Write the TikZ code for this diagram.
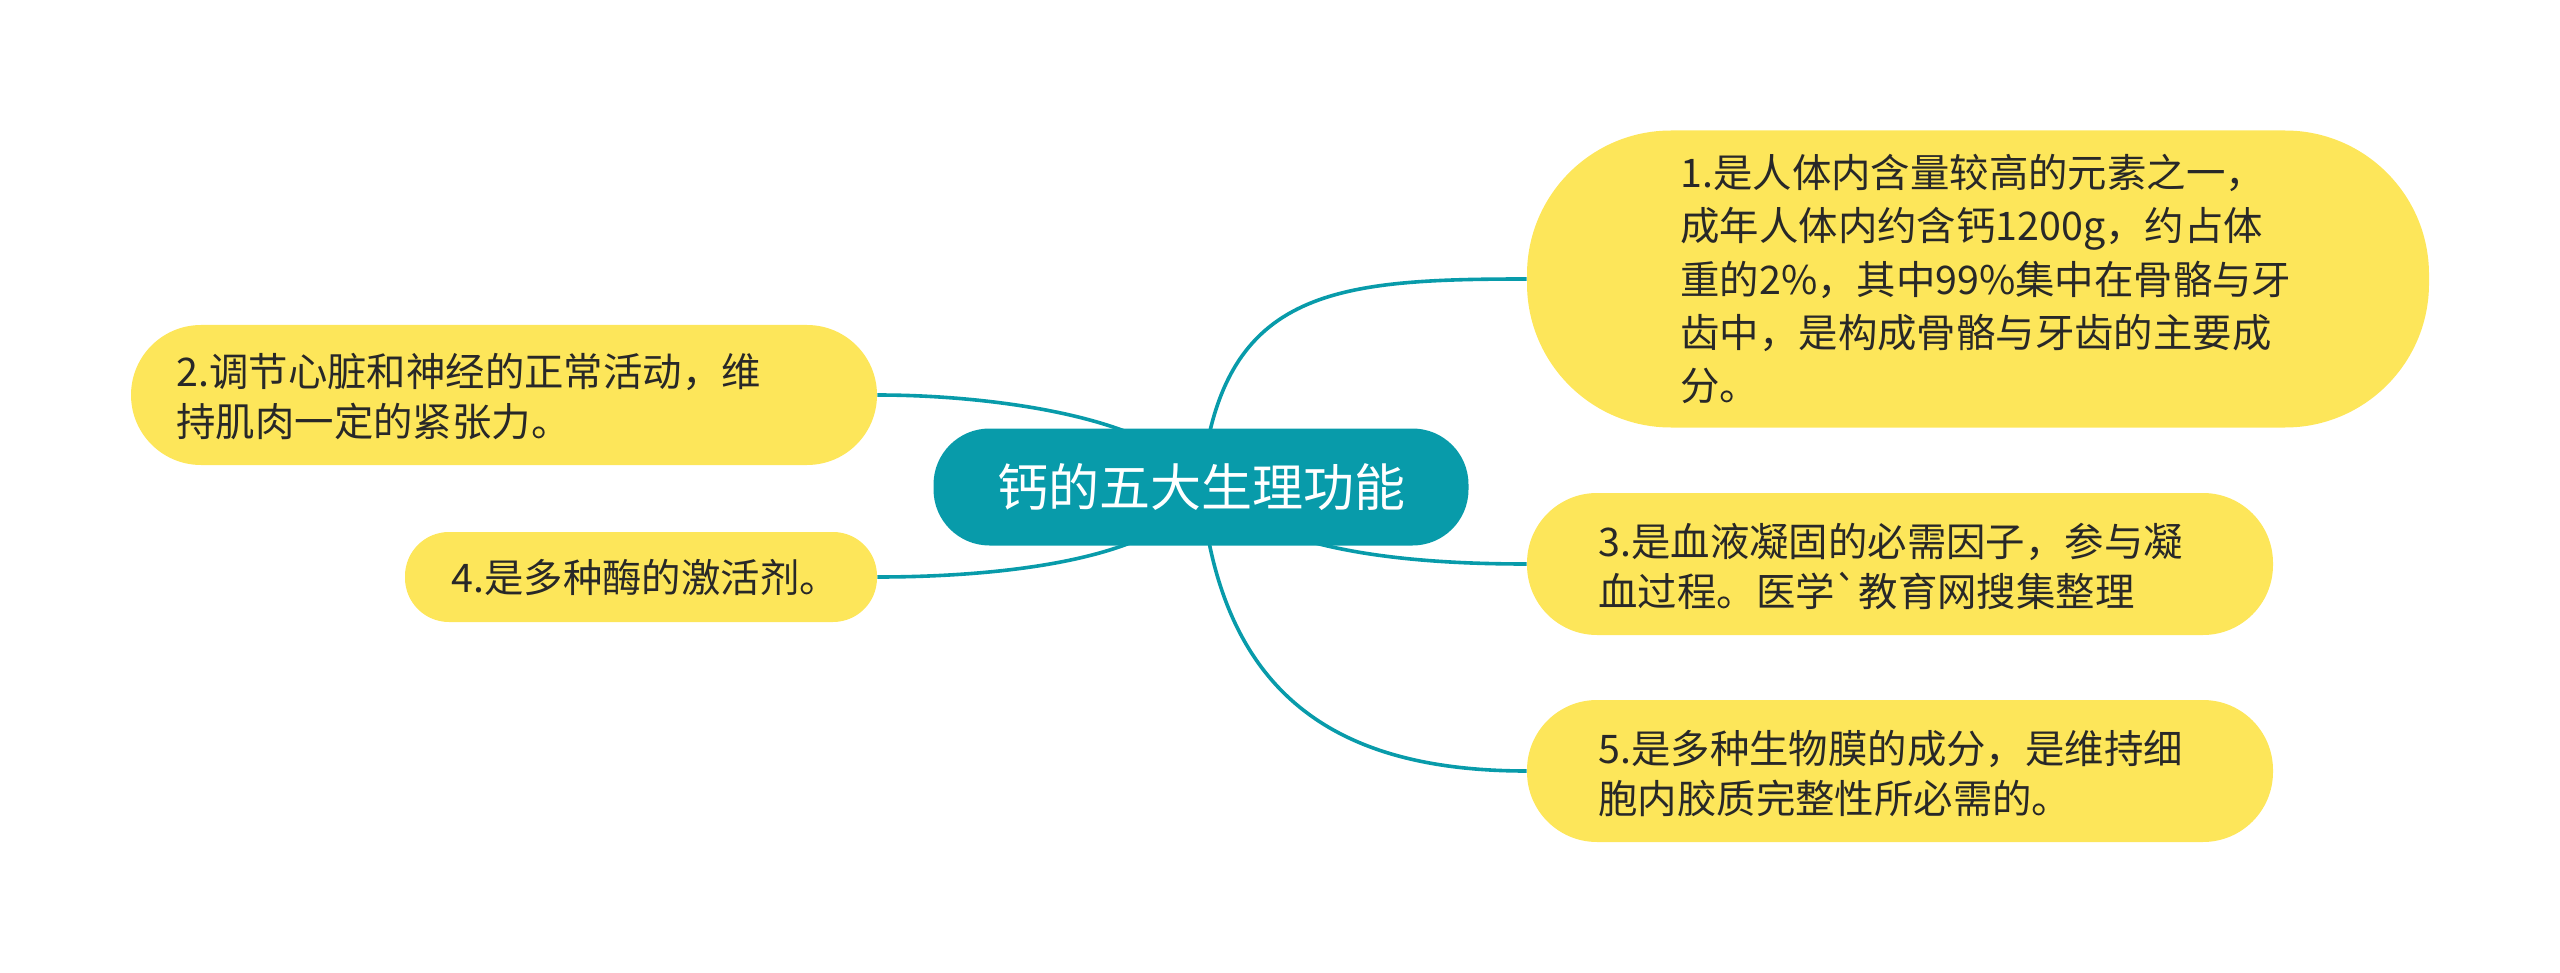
\documentclass[tikz,border=0pt]{standalone}
\usepackage{fontspec}
\newfontfamily\cjk[Ligatures=TeXOff]{Noto Sans CJK SC}
\usetikzlibrary{backgrounds}
\definecolor{teal1}{RGB}{8,155,170}
\definecolor{yel}{RGB}{253,230,90}
\definecolor{txt}{RGB}{40,40,40}
\begin{document}
\begin{tikzpicture}[x=0.5pt,y=-0.5pt,
 box/.style={fill=yel, draw=none, inner sep=0pt},
 lbl/.style={font=\cjk\fontsize{19.7pt}{25pt}\selectfont, text=txt, align=left, inner sep=0pt, anchor=west},
 link/.style={draw=teal1, line width=1.8pt}]
\useasboundingbox (0,0) rectangle (2560,973);
\node[fill=teal1, rounded corners=28pt, minimum width=267.5pt, minimum height=58.5pt, inner sep=0pt, text=white, font=\cjk\fontsize{25.5pt}{30pt}\selectfont] (root) at (1201,487) {钙的五大生理功能};
% boxes
\node[box, rounded corners=72pt, minimum width=451pt, minimum height=148.5pt] (b1) at (1978,279) {};
\node[box, rounded corners=35pt, minimum width=373pt, minimum height=70pt] (b2) at (504,395) {};
\node[box, rounded corners=35pt, minimum width=373pt, minimum height=71pt] (b3) at (1900,564) {};
\node[box, rounded corners=22pt, minimum width=236pt, minimum height=45pt] (b4) at (641,577) {};
\node[box, rounded corners=35pt, minimum width=373pt, minimum height=71pt] (b5) at (1900,771) {};
% labels
\node[lbl, font=\cjk\fontsize{19.7pt}{26.7pt}\selectfont] (t1) at (1680,279) {1.是人体内含量较高的元素之一，\\成年人体内约含钙1200g，约占体\\重的2\%，其中99\%集中在骨骼与牙\\齿中，是构成骨骼与牙齿的主要成\\分。};
\node[lbl] (t2) at (176,397) {2.调节心脏和神经的正常活动，维\\持肌肉一定的紧张力。};
\node[lbl] (t3) at (1598,566) {3.是血液凝固的必需因子，参与凝\\血过程。医学`教育网搜集整理};
\node[lbl] (t4) at (451,577) {4.是多种酶的激活剂。};
\node[lbl] (t5) at (1598,774) {5.是多种生物膜的成分，是维持细\\胞内胶质完整性所必需的。};
\begin{pgfonlayer}{background}
\draw[link] (root.center) .. controls (1220,290) and (1330,279) .. (b1.west);
\draw[link] (root.center) .. controls (1170,420) and (1000,395) .. (b2.east);
\draw[link] (root.center) .. controls (1270,550) and (1400,564) .. (b3.west);
\draw[link] (root.center) .. controls (1170,560) and (1000,577) .. (b4.east);
\draw[link] (root.center) .. controls (1220,690) and (1330,771) .. (b5.west);
\end{pgfonlayer}
\end{tikzpicture}
\end{document}
